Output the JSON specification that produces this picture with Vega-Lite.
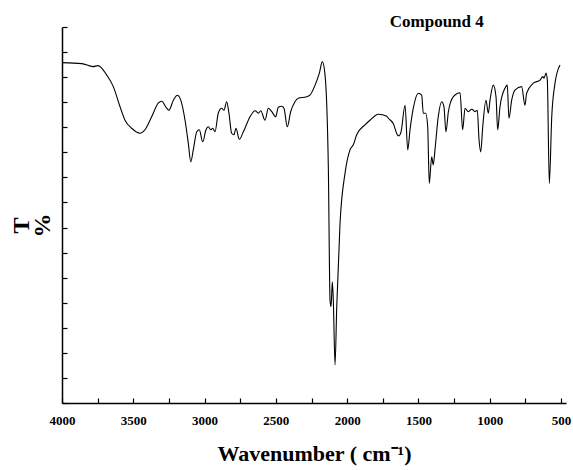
{
  "$schema": "https://vega.github.io/schema/vega-lite/v6.json",
  "width": 504,
  "height": 376,
  "autosize": "none",
  "padding": {"left": 62, "top": 27, "right": 7, "bottom": 67},
  "background": "white",
  "title": {
    "text": "Compound 4",
    "anchor": "end",
    "dx": -87,
    "offset": -5,
    "font": "Liberation Serif",
    "fontSize": 17,
    "fontWeight": "bold",
    "color": "black"
  },
  "config": {
    "view": {"stroke": null},
    "axis": {
      "grid": false,
      "domainColor": "black",
      "domainWidth": 1.5,
      "tickColor": "black",
      "tickWidth": 1.2,
      "tickSize": -5,
      "labelFont": "Liberation Serif",
      "labelFontWeight": "bold",
      "labelFontSize": 13,
      "labelColor": "black",
      "titleFont": "Liberation Serif",
      "titleFontWeight": "bold",
      "titleColor": "black"
    }
  },
  "data": {
    "values": [
      {"wavenumber": 4000, "T": 67.9},
      {"wavenumber": 3860, "T": 67.7},
      {"wavenumber": 3783, "T": 67.1},
      {"wavenumber": 3747, "T": 67.3},
      {"wavenumber": 3686, "T": 65.4},
      {"wavenumber": 3640, "T": 63.1},
      {"wavenumber": 3593, "T": 59.1},
      {"wavenumber": 3558, "T": 56.4},
      {"wavenumber": 3511, "T": 54.8},
      {"wavenumber": 3453, "T": 53.8},
      {"wavenumber": 3418, "T": 54.5},
      {"wavenumber": 3371, "T": 57.1},
      {"wavenumber": 3325, "T": 59.8},
      {"wavenumber": 3301, "T": 60.2},
      {"wavenumber": 3266, "T": 58.8},
      {"wavenumber": 3250, "T": 58.4},
      {"wavenumber": 3219, "T": 60.4},
      {"wavenumber": 3191, "T": 61.4},
      {"wavenumber": 3167, "T": 60.4},
      {"wavenumber": 3137, "T": 56.4},
      {"wavenumber": 3114, "T": 51.8},
      {"wavenumber": 3097, "T": 48.1},
      {"wavenumber": 3079, "T": 50.5},
      {"wavenumber": 3055, "T": 54.1},
      {"wavenumber": 3037, "T": 54.5},
      {"wavenumber": 3013, "T": 52.1},
      {"wavenumber": 2990, "T": 54.5},
      {"wavenumber": 2974, "T": 55.1},
      {"wavenumber": 2957, "T": 54.5},
      {"wavenumber": 2943, "T": 54.8},
      {"wavenumber": 2927, "T": 54.1},
      {"wavenumber": 2904, "T": 57.8},
      {"wavenumber": 2880, "T": 58.8},
      {"wavenumber": 2864, "T": 58.4},
      {"wavenumber": 2845, "T": 60.1},
      {"wavenumber": 2829, "T": 57.8},
      {"wavenumber": 2810, "T": 53.8},
      {"wavenumber": 2794, "T": 53.5},
      {"wavenumber": 2780, "T": 54.8},
      {"wavenumber": 2756, "T": 52.6},
      {"wavenumber": 2728, "T": 54.1},
      {"wavenumber": 2681, "T": 57.1},
      {"wavenumber": 2646, "T": 58.3},
      {"wavenumber": 2623, "T": 57.8},
      {"wavenumber": 2606, "T": 58.3},
      {"wavenumber": 2576, "T": 56.4},
      {"wavenumber": 2553, "T": 58.8},
      {"wavenumber": 2529, "T": 58.1},
      {"wavenumber": 2501, "T": 57.1},
      {"wavenumber": 2483, "T": 59.0},
      {"wavenumber": 2459, "T": 59.2},
      {"wavenumber": 2443, "T": 58.8},
      {"wavenumber": 2420, "T": 55.1},
      {"wavenumber": 2396, "T": 58.1},
      {"wavenumber": 2366, "T": 60.1},
      {"wavenumber": 2343, "T": 60.8},
      {"wavenumber": 2284, "T": 61.1},
      {"wavenumber": 2261, "T": 61.4},
      {"wavenumber": 2225, "T": 63.4},
      {"wavenumber": 2195, "T": 65.8},
      {"wavenumber": 2174, "T": 68.1},
      {"wavenumber": 2155, "T": 65.4},
      {"wavenumber": 2132, "T": 47.1},
      {"wavenumber": 2120, "T": 20.5},
      {"wavenumber": 2113, "T": 19.2},
      {"wavenumber": 2104, "T": 24.2},
      {"wavenumber": 2097, "T": 20.5},
      {"wavenumber": 2085, "T": 7.6},
      {"wavenumber": 2073, "T": 19.2},
      {"wavenumber": 2050, "T": 35.8},
      {"wavenumber": 2015, "T": 45.8},
      {"wavenumber": 1980, "T": 50.5},
      {"wavenumber": 1957, "T": 51.5},
      {"wavenumber": 1933, "T": 53.5},
      {"wavenumber": 1875, "T": 55.5},
      {"wavenumber": 1840, "T": 56.4},
      {"wavenumber": 1781, "T": 57.6},
      {"wavenumber": 1722, "T": 57.2},
      {"wavenumber": 1711, "T": 56.8},
      {"wavenumber": 1676, "T": 55.7},
      {"wavenumber": 1648, "T": 53.5},
      {"wavenumber": 1638, "T": 53.3},
      {"wavenumber": 1622, "T": 54.1},
      {"wavenumber": 1594, "T": 59.4},
      {"wavenumber": 1575, "T": 50.5},
      {"wavenumber": 1559, "T": 54.5},
      {"wavenumber": 1536, "T": 58.8},
      {"wavenumber": 1501, "T": 61.8},
      {"wavenumber": 1477, "T": 61.4},
      {"wavenumber": 1466, "T": 57.8},
      {"wavenumber": 1449, "T": 57.8},
      {"wavenumber": 1435, "T": 55.1},
      {"wavenumber": 1424, "T": 43.8},
      {"wavenumber": 1407, "T": 49.1},
      {"wavenumber": 1396, "T": 47.5},
      {"wavenumber": 1384, "T": 50.5},
      {"wavenumber": 1361, "T": 57.1},
      {"wavenumber": 1337, "T": 60.1},
      {"wavenumber": 1321, "T": 59.1},
      {"wavenumber": 1307, "T": 54.1},
      {"wavenumber": 1290, "T": 58.1},
      {"wavenumber": 1255, "T": 61.1},
      {"wavenumber": 1208, "T": 61.9},
      {"wavenumber": 1190, "T": 54.5},
      {"wavenumber": 1173, "T": 58.8},
      {"wavenumber": 1150, "T": 58.1},
      {"wavenumber": 1126, "T": 58.6},
      {"wavenumber": 1103, "T": 58.1},
      {"wavenumber": 1087, "T": 58.4},
      {"wavenumber": 1075, "T": 52.5},
      {"wavenumber": 1063, "T": 50.1},
      {"wavenumber": 1049, "T": 55.1},
      {"wavenumber": 1026, "T": 60.4},
      {"wavenumber": 1010, "T": 57.8},
      {"wavenumber": 998, "T": 60.4},
      {"wavenumber": 975, "T": 63.4},
      {"wavenumber": 956, "T": 61.1},
      {"wavenumber": 944, "T": 54.5},
      {"wavenumber": 928, "T": 59.1},
      {"wavenumber": 893, "T": 62.8},
      {"wavenumber": 877, "T": 63.4},
      {"wavenumber": 865, "T": 56.8},
      {"wavenumber": 846, "T": 60.4},
      {"wavenumber": 823, "T": 62.4},
      {"wavenumber": 776, "T": 63.1},
      {"wavenumber": 753, "T": 59.4},
      {"wavenumber": 741, "T": 61.8},
      {"wavenumber": 694, "T": 63.8},
      {"wavenumber": 647, "T": 64.4},
      {"wavenumber": 628, "T": 65.1},
      {"wavenumber": 619, "T": 64.8},
      {"wavenumber": 605, "T": 65.8},
      {"wavenumber": 596, "T": 64.4},
      {"wavenumber": 582, "T": 43.8},
      {"wavenumber": 565, "T": 57.1},
      {"wavenumber": 542, "T": 63.8},
      {"wavenumber": 507, "T": 67.4}
    ]
  },
  "mark": {"type": "line", "color": "black", "strokeWidth": 1.1, "clip": true, "interpolate": "monotone"},
  "encoding": {
    "x": {
      "field": "wavenumber",
      "type": "quantitative",
      "scale": {"domain": [465, 4000], "reverse": true, "nice": false, "zero": false},
      "axis": {
        "values": [4000, 3750, 3500, 3250, 3000, 2750, 2500, 2250, 2000, 1750, 1500, 1250, 1000, 750, 500],
        "format": "d",
        "labelExpr": "datum.value % 500 == 0 ? datum.label : ''",
        "labelPadding": 16,
        "labelFlush": false,
        "labelOverlap": false,
        "title": "Wavenumber ( cm⁻¹)",
        "titleFontSize": 22,
        "titlePadding": 16
      }
    },
    "y": {
      "field": "T",
      "type": "quantitative",
      "scale": {"domain": [0, 75], "nice": false, "zero": false},
      "axis": {
        "values": [0, 5, 10, 15, 20, 25, 30, 35, 40, 45, 50, 55, 60, 65, 70, 75],
        "labels": false,
        "title": ["T", "%"],
        "titleFontSize": 24,
        "titleLineHeight": 21,
        "titleAngle": 270,
        "titleAlign": "center",
        "titleBaseline": "middle",
        "titleX": -41,
        "titleY": 198
      }
    }
  }
}
